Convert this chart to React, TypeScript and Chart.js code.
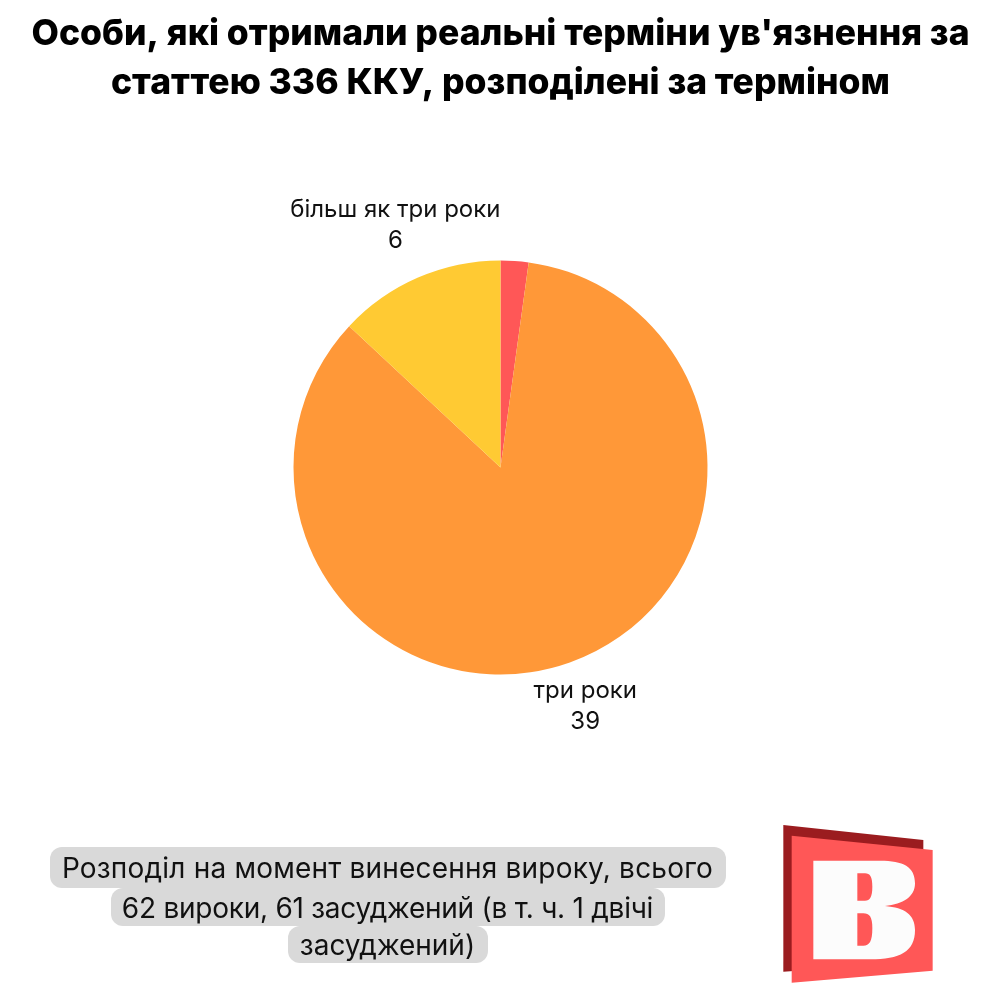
import { useEffect, useRef } from 'react';
import { Chart, registerables } from 'chart.js';
import type { Plugin } from 'chart.js';

Chart.register(...registerables);

const titleLines = ["Особи, які отримали реальні терміни ув'язнення за", 'статтею 336 ККУ, розподілені за терміном'];
const categories = ['', 'три роки', 'більш як три роки'];
const values = [1, 39, 6];
const sliceColors = ['#FF5757', '#FF9838', '#FFCA33'];
const noteLines = ['Розподіл на момент винесення вироку, всього', '62 вироки, 61 засуджений (в т. ч. 1 двічі', 'засуджений)'];

const FONT = 'Inter, "Open Sans", sans-serif';

// distance of each label's centre from the rim of the pie
const labelGaps = [0, 46, 57];

// the note's grey strips and how tight each line has to run to fit them
const noteBoxWidths = [676, 554, 200];
const noteBoxHeights = [41, 38, 37];
const noteSpacing = [0.2, -0.25, 0];

const sliceLabels: Plugin<'pie'> = {
  id: 'sliceLabels',
  afterDatasetsDraw(chart) {
    const { ctx } = chart;
    ctx.save();
    ctx.font = `24px ${FONT}`;
    ctx.fillStyle = '#111111';
    ctx.textAlign = 'center';
    ctx.textBaseline = 'middle';
    chart.getDatasetMeta(0).data.forEach((arc: any, i) => {
      if (!categories[i]) return;
      const mid = (arc.startAngle + arc.endAngle) / 2;
      const r = arc.outerRadius + labelGaps[i];
      const x = arc.x + Math.cos(mid) * r;
      const y = arc.y + Math.sin(mid) * r;
      ctx.fillText(categories[i], x, y - 15.5);
      ctx.fillText(String(values[i]), x, y + 15.5);
    });
    ctx.restore();
  },
};

const App = () => {
  const canvasRef = useRef<HTMLCanvasElement>(null);

  useEffect(() => {
    if (!canvasRef.current) return;
    const chart = new Chart(canvasRef.current, {
      type: 'pie',
      data: {
        labels: categories,
        datasets: [{ data: values, backgroundColor: sliceColors, borderWidth: 0 }],
      },
      options: {
        responsive: false,
        animation: false,
        layout: { padding: { left: 1, bottom: 325.5 } },
        plugins: {
          legend: { display: false },
          tooltip: { enabled: false },
          title: {
            display: true,
            text: titleLines,
            color: '#000000',
            font: { family: FONT, size: 35.5, weight: 800, lineHeight: 1.38 },
            padding: { top: 10, bottom: 152.5 },
          },
        },
      },
      plugins: [sliceLabels],
    });
    return () => chart.destroy();
  }, []);

  return (
    <div style={{ position: 'absolute', left: 0, top: 0, width: 1000, height: 1000, background: '#fff', overflow: 'hidden' }}>
      <canvas ref={canvasRef} width={1000} height={1000} style={{ display: 'block' }} />
      <div style={{ position: 'absolute', left: 0, top: 847, width: 775, textAlign: 'center', fontFamily: FONT, fontSize: 28, color: '#111' }}>
        {noteLines.map((line, i) => (
          <div key={i} style={{ height: noteBoxHeights[i] }}>
            <span
              style={{
                display: 'inline-block',
                width: noteBoxWidths[i],
                height: '100%',
                lineHeight: `${noteBoxHeights[i] + 2}px`,
                letterSpacing: noteSpacing[i],
                whiteSpace: 'nowrap',
                background: '#D9D9D9',
                borderRadius: 12,
              }}
            >
              {line}
            </span>
          </div>
        ))}
      </div>
      <svg viewBox="0 0 525 525" width={175} height={175} style={{ position: 'absolute', left: 770, top: 815 }}>
        <polygon points="40,30 460,75 460,440 40,470" fill="#9B1C1F" />
        <polygon points="65,62 488,105 488,467 65,503" fill="#FF5757" />
        <path
          fillRule="evenodd"
          fill="#FCFCFC"
          d="M130 137 L330 137 C400 137 435 155 435 205 C435 245 400 268 345 273 C405 278 435 300 435 345 C435 410 390 433 300 433 L130 433 Z M262 175 L285 175 C300 175 307 185 307 215 C307 245 300 257 285 257 L262 257 Z M262 295 L280 295 C298 295 307 305 307 340 C307 380 298 392 280 392 L262 392 Z"
        />
      </svg>
    </div>
  );
};

export default App;
